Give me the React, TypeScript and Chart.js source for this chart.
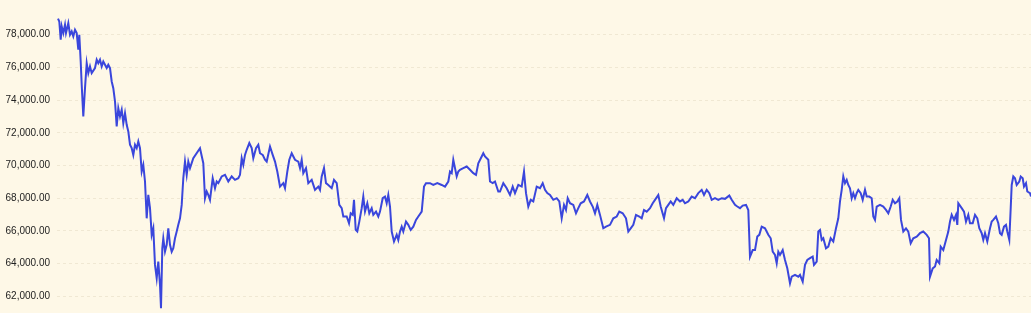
import React, { useEffect, useRef } from "react";
import { Chart, registerables } from "chart.js";

Chart.register(...registerables);

// Elapsed time (hours from series start) and price readings
const hours: number[] = [
  0, 1.3, 2.7, 3.7, 5.3, 7, 8, 10.3, 12, 13.7, 15.3, 17, 18.7, 20.3, 21.3, 22.7, 23.7, 25.3, 27, 28.7,
  30.3, 32, 33.7, 37, 38.7, 40.3, 42, 43.7, 45.3, 47, 48.7, 50.3, 52, 53.7, 55.3, 57, 58.7, 60.3, 62, 63.7,
  65.3, 67, 68.7, 70.3, 72, 73.7, 75.3, 77, 78.7, 80.3, 82, 83.7, 85.3, 87, 88.7, 90.3, 92, 93.7, 95.3, 97,
  98.7, 100.3, 102, 103, 104.3, 105.3, 107, 108.7, 110.3, 112, 113.7, 115.3, 117, 118.7, 120.3, 122, 123.7, 125.3, 127, 128.7,
  130.3, 132, 135.3, 142, 145.3, 147, 148.7, 150.3, 152, 154.7, 157, 158.7, 160.3, 163.7, 167, 170.3, 173.7, 177, 180.3, 182,
  183.7, 185.3, 187, 188.7, 191.3, 193.7, 195.3, 198, 200.3, 202, 204.7, 207, 208.7, 212, 214.7, 217, 219.3, 222, 225.3, 227,
  229.3, 231.3, 233.7, 237, 240.3, 242, 243.7, 245.3, 248, 250.3, 253.7, 257, 260.3, 262, 263.7, 266, 268, 270.3, 273.7, 276,
  278.7, 281.3, 283.7, 285.3, 288.7, 291, 292.7, 294.7, 296, 297.7, 299.3, 301.3, 303.7, 305.3, 307, 309.3, 311.3, 313.7, 315.3, 318,
  320.3, 322, 324.7, 327, 328.7, 330.3, 332, 333.7, 336, 338.7, 340.3, 342, 343.7, 345.3, 348, 350.3, 352.7, 355.3, 358, 360.3,
  363.7, 366, 368, 372, 375.3, 379.3, 383.7, 387, 390.3, 392, 393.7, 395.3, 397, 398.7, 400.3, 402, 405.3, 408.7, 412, 415.3,
  418, 420.3, 423.7, 425.3, 427, 430.3, 432, 434.7, 437, 440.3, 442, 445.3, 448.7, 452, 454.7, 457, 460.3, 463.7, 466, 468,
  470.3, 472.7, 475.3, 478.7, 482, 484.7, 487, 489.3, 492, 495.3, 498.7, 501.3, 503.7, 506, 508, 509.7, 512, 515.3, 518, 520.3,
  522.7, 526, 529.3, 532, 534.7, 537, 539.3, 542, 545.3, 548, 552, 555.3, 558.7, 561.3, 564.7, 568, 570.3, 572.7, 575.3, 578,
  581.3, 583.7, 586, 588.7, 592, 594.7, 597, 600.3, 602.7, 606, 608, 610.3, 612.7, 615.3, 618.7, 622, 624.7, 627, 630.3, 633.7,
  637, 640.3, 643.7, 646, 648.7, 651.3, 653.7, 657, 660.3, 663.7, 667, 671.3, 673.7, 677, 679.3, 682, 684.7, 688, 690.3, 692,
  694.7, 697, 699.3, 701.3, 703.7, 707, 710.3, 712.7, 714.7, 717, 718.7, 720.3, 722, 724.7, 727, 729.3, 732, 733.7, 737, 740.3,
  742, 744.7, 747, 749.3, 752, 754.7, 756, 758.7, 760.3, 762, 763.7, 765.3, 768, 770.3, 772.7, 775.3, 778, 780.3, 782, 783.7,
  785.3, 787, 788.7, 790.3, 792, 793.7, 795.3, 797, 798.7, 800.3, 802.7, 804.7, 807, 808.7, 811.3, 813.7, 815.3, 817, 818.7, 822,
  825.3, 828, 830.3, 832.7, 834.7, 837, 839.3, 841.3, 843, 845.3, 848, 850.3, 852.7, 855.3, 858.7, 862, 865.3, 868.7, 871, 872,
  874.7, 877, 878.7, 881.3, 882.7, 885.3, 888, 890.3, 892, 893.7, 896, 898, 899.3, 900.3, 903.7, 906, 908, 910.3, 912, 914.7,
  917, 919.3, 921.3, 923.7, 925.3, 927, 929.3, 932, 933.7, 935.3, 938, 940.3, 942, 943.7, 946, 948, 949.3, 951.3, 952.7, 953.7,
  955.3, 957, 958.7, 961.3, 962.7, 964.7, 966, 968, 969.3, 972, 973,
];

const prices: number[] = [
  78980, 78810, 77690, 78510, 78100, 78610, 78100, 78710, 78000, 78200, 77900, 78300, 78100, 77080, 78000, 76360, 74940, 73000, 74730, 76260,
  75650, 76060, 75650, 75960, 76470, 76260, 76470, 76060, 76360, 76160, 75960, 76160, 75960, 75140, 74730, 73920, 72390, 73510, 73000, 73410,
  72590, 73200, 72490, 72080, 71270, 71060, 70650, 71270, 71060, 71470, 71060, 69630, 70040, 69020, 66770, 68200, 67390, 65760, 66160, 63920,
  63100, 64120, 62700, 61270, 64940, 65550, 64730, 65150, 66160, 65150, 64730, 64940, 65550, 65960, 66370, 66770, 67590, 69220, 70240, 69430,
  70240, 69840, 70450, 71060, 70140, 68000, 68410, 68200, 67900, 69220, 68610, 69020, 68920, 69330, 69430, 69020, 69330, 69120, 69220, 69430,
  70450, 70040, 70650, 70960, 71370, 71060, 70450, 71060, 71270, 70750, 70650, 70350, 70240, 71160, 70650, 70240, 69630, 68710, 68920, 68610,
  69630, 70350, 70750, 70350, 70240, 69840, 70350, 69530, 69840, 68920, 69120, 68510, 68710, 68510, 69330, 69840, 68920, 68810, 68610, 69120,
  68920, 67590, 67390, 66880, 66880, 66470, 67080, 66980, 67900, 66060, 65960, 66570, 67390, 68100, 67180, 67690, 67080, 67390, 66980, 67180,
  66880, 67180, 68000, 68100, 67690, 68200, 67490, 65960, 65350, 65760, 65450, 65960, 66260, 65960, 66570, 66370, 66060, 66260, 66670, 66880,
  67180, 68710, 68920, 68920, 68810, 68920, 68810, 68710, 69020, 69630, 69530, 70350, 69840, 69330, 69630, 69740, 69840, 69940, 69740, 69530,
  69430, 70140, 70550, 70750, 70550, 70350, 69020, 68920, 69020, 68410, 68410, 68920, 68610, 68200, 68710, 68310, 68810, 68710, 69630, 68310,
  67490, 67900, 67800, 68710, 68610, 68920, 68510, 68310, 68200, 67900, 68000, 67800, 66770, 67590, 67280, 68000, 67690, 67590, 67080, 67390,
  67690, 67800, 68200, 67800, 67490, 67080, 67590, 66980, 66160, 66260, 66370, 66770, 66880, 67180, 67080, 66770, 65960, 66160, 66370, 66980,
  66880, 66770, 67280, 67180, 67390, 67690, 67900, 68200, 67490, 66770, 67390, 67590, 67800, 67590, 68000, 67800, 67900, 67690, 67800, 68100,
  68000, 68310, 68510, 68200, 68510, 68310, 67900, 68000, 67900, 68000, 67960, 68160, 67900, 67590, 67490, 67390, 67550, 67590, 67280, 64420,
  64830, 64830, 65650, 65760, 66260, 66160, 65760, 65550, 64730, 64530, 64020, 64730, 64530, 64830, 64220, 63710, 62790, 63200, 63310, 63200,
  63310, 62900, 63920, 64220, 64330, 64430, 63920, 64120, 65960, 66060, 65450, 65550, 64940, 65040, 65550, 65350, 66160, 66770, 67800, 68510,
  69330, 68920, 69120, 68810, 68610, 68000, 68310, 68000, 68310, 68510, 68310, 67900, 68510, 68100, 68100, 68000, 66880, 66670, 67490, 67590,
  67490, 67280, 67080, 67490, 67900, 67690, 67800, 68000, 66670, 65960, 66160, 65960, 65240, 65550, 65650, 65860, 65960, 65760, 65550, 63200,
  63710, 63820, 64220, 64020, 65040, 64830, 65450, 65960, 66570, 66980, 66670, 66980, 66370, 67690, 67390, 67180, 66570, 66980, 66470, 66470,
  66980, 66770, 66160, 65860, 65450, 65860, 65350, 66160, 66570, 66670, 66880, 66470, 65860, 65760, 66260, 66370, 65960, 65450, 67390, 68810,
  69330, 69220, 68810, 69020, 69330, 69220, 68710, 68920, 68410, 68310, 68100,
];

const yMin = 60000;
const yMax = 80000;
const yStep = 2000;

export default function App() {
  const ref = useRef<HTMLCanvasElement | null>(null);

  useEffect(() => {
    const canvas = ref.current;
    if (!canvas) return;
    const points = hours.map((h, i) => ({ x: h, y: prices[i] }));
    const chart = new Chart(canvas, {
      type: "line",
      data: {
        datasets: [
          {
            data: points,
            borderColor: "#3a46dc",
            borderWidth: 2,
            pointRadius: 0,
            tension: 0,
            fill: false,
          },
        ],
      },
      options: {
        animation: false,
        responsive: true,
        maintainAspectRatio: false,
        layout: { padding: 0 },
        plugins: { legend: { display: false }, tooltip: { enabled: false } },
        scales: {
          x: {
            type: "linear",
            min: -1,
            max: 973,
            display: false,
          },
          y: {
            min: yMin,
            max: yMax,
            afterFit: (scale: any) => {
              scale.width = 57;
            },
            border: { display: false, dash: [3, 3] },
            grid: { color: "rgba(120,100,40,0.10)", drawTicks: false, lineWidth: 1 },
            ticks: {
              stepSize: yStep,
              padding: 7,
              color: "#222",
              font: { family: "'Liberation Sans', Arial, sans-serif", size: 10 },
              callback: (v: any) => {
                const n = Number(v);
                if (n === yMin || n === yMax) return null;
                return n.toLocaleString("en-US", { minimumFractionDigits: 2, maximumFractionDigits: 2 });
              },
            },
          },
        },
      },
    });
    return () => chart.destroy();
  }, []);

  return (
    <div style={{ position: "fixed", inset: 0, background: "#fef8e7", overflow: "hidden" }}>
      <div style={{ position: "absolute", left: 0, top: -11, width: 1031, height: 353 }}>
        <canvas ref={ref} />
      </div>
    </div>
  );
}
